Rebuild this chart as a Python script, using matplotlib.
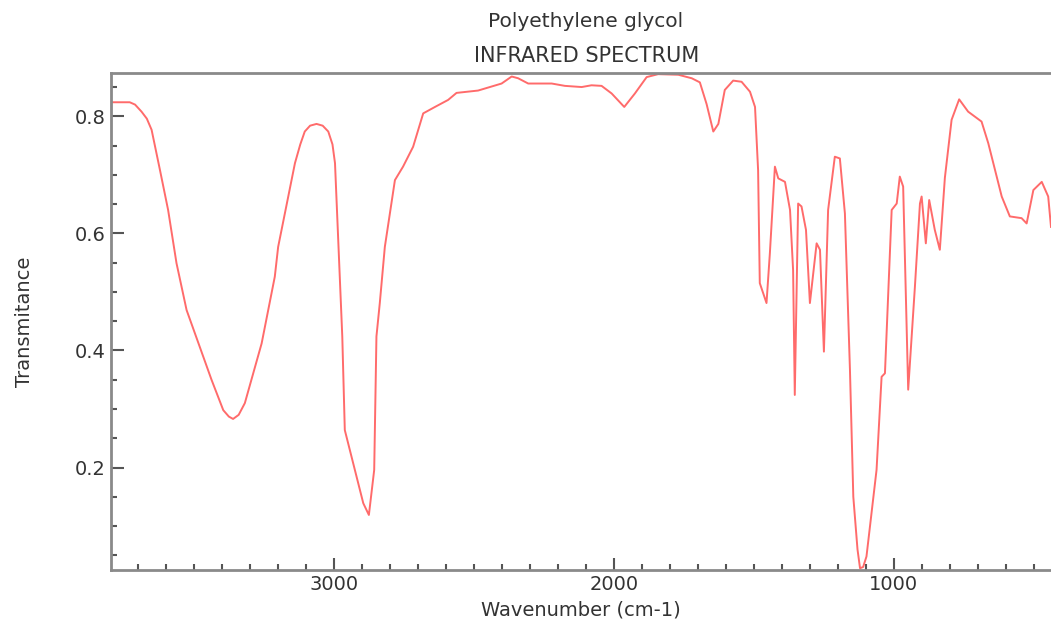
import numpy as np
import matplotlib
matplotlib.use("Agg")
import matplotlib.pyplot as plt
from matplotlib.ticker import MultipleLocator

# IR spectrum of polyethylene glycol
wavenumber = [3796, 3729, 3710, 3687, 3668, 3651, 3621, 3592, 3562, 3526,
              3496, 3437, 3395, 3375, 3360, 3340, 3318, 3258, 3211, 3199,
              3139, 3120, 3104, 3085, 3062, 3040, 3020, 3005, 2996, 2985,
              2970, 2961, 2925, 2895, 2875, 2856, 2848, 2836, 2818, 2782,
              2753, 2717, 2681, 2639, 2592, 2562, 2485, 2401, 2365, 2342,
              2306, 2222, 2175, 2115, 2080, 2044, 2008, 1963, 1925, 1883,
              1842, 1770, 1722, 1693, 1669, 1645, 1627, 1604, 1574, 1544,
              1514, 1496, 1485, 1479, 1455, 1443, 1425, 1413, 1389, 1371,
              1360, 1354, 1342, 1330, 1314, 1300, 1276, 1264, 1250, 1235,
              1211, 1193, 1175, 1157, 1145, 1130, 1121, 1110, 1098, 1062,
              1044, 1032, 1008, 990, 979, 967, 949, 925, 907, 901,
              886, 874, 854, 836, 818, 794, 767, 735, 687, 663,
              615, 586, 544, 526, 502, 472, 449, 439]
transmittance = [0.824, 0.824, 0.820, 0.808, 0.796, 0.777, 0.708, 0.640, 0.549, 0.469,
                 0.429, 0.350, 0.298, 0.287, 0.283, 0.290, 0.310, 0.412, 0.526, 0.577,
                 0.720, 0.752, 0.774, 0.784, 0.787, 0.784, 0.774, 0.752, 0.720, 0.594,
                 0.424, 0.264, 0.196, 0.139, 0.119, 0.196, 0.424, 0.481, 0.577, 0.691,
                 0.714, 0.748, 0.805, 0.816, 0.828, 0.840, 0.844, 0.856, 0.868, 0.865,
                 0.856, 0.856, 0.852, 0.850, 0.853, 0.852, 0.839, 0.816, 0.839, 0.867,
                 0.872, 0.871, 0.865, 0.858, 0.821, 0.774, 0.787, 0.845, 0.861, 0.859,
                 0.842, 0.816, 0.708, 0.515, 0.481, 0.566, 0.714, 0.694, 0.688, 0.640,
                 0.537, 0.324, 0.651, 0.646, 0.606, 0.481, 0.583, 0.572, 0.398, 0.640,
                 0.731, 0.728, 0.634, 0.367, 0.150, 0.060, 0.028, 0.030, 0.048, 0.196,
                 0.355, 0.361, 0.640, 0.651, 0.697, 0.680, 0.333, 0.509, 0.651, 0.663,
                 0.583, 0.657, 0.606, 0.572, 0.695, 0.794, 0.829, 0.808, 0.791, 0.754,
                 0.663, 0.629, 0.626, 0.617, 0.674, 0.688, 0.663, 0.611]

wn = np.array(wavenumber)
tr = np.array(transmittance)

txt = "#333333"
fig = plt.figure(figsize=(10.51, 6.26), dpi=100)
ax = fig.add_axes([0.1056, 0.0895, 0.8944, 0.7939])

ax.plot(wn, tr, color="#ff6b6b", lw=1.4)

ax.set_xlim(wn.max(), wn.min())
ax.set_ylim(0.025, 0.874)

ax.xaxis.set_major_locator(MultipleLocator(1000))
ax.xaxis.set_minor_locator(MultipleLocator(100))
ax.yaxis.set_major_locator(MultipleLocator(0.2))
ax.yaxis.set_minor_locator(MultipleLocator(0.05))
ax.tick_params(which="both", direction="in", colors="#555555", labelcolor=txt,
               labelsize=14, width=1.5)
ax.tick_params(which="major", length=9)
ax.tick_params(which="minor", length=4.5)

for s in ["left", "bottom", "top"]:
    ax.spines[s].set_color("#8a8a8a")
    ax.spines[s].set_linewidth(2)
ax.spines["right"].set_visible(False)

ax.set_xlabel("Wavenumber (cm-1)", fontsize=14, color=txt, labelpad=5)
ax.set_ylabel("Transmitance", fontsize=14, color=txt, labelpad=30)

fig.text(0.557, 0.966, "Polyethylene glycol", ha="center", va="center",
         fontsize=14.5, color=txt)
fig.text(0.558, 0.911, "INFRARED SPECTRUM", ha="center", va="center",
         fontsize=15, color=txt, fontweight="medium")

fig.savefig("out.png", dpi=100)
